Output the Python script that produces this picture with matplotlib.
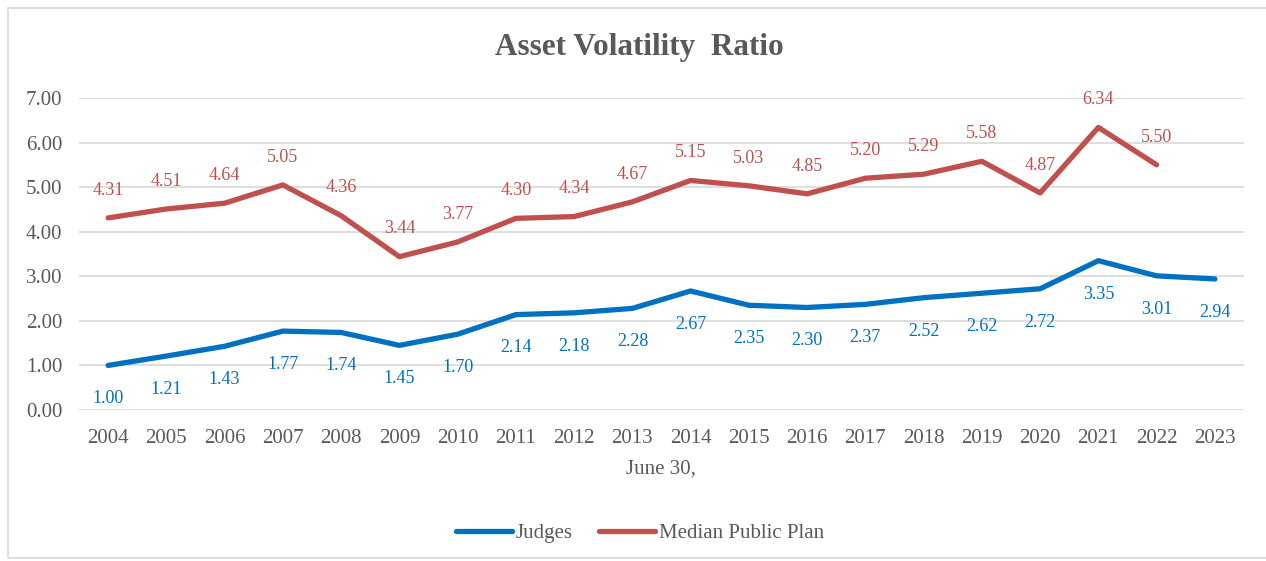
import matplotlib.pyplot as plt
from matplotlib.patches import Rectangle

# Values
years = [str(y) for y in range(2004, 2024)]
judges = [1.00, 1.21, 1.43, 1.77, 1.74, 1.45, 1.70, 2.14, 2.18, 2.28,
          2.67, 2.35, 2.30, 2.37, 2.52, 2.62, 2.72, 3.35, 3.01, 2.94]
median_plan = [4.31, 4.51, 4.64, 5.05, 4.36, 3.44, 3.77, 4.30, 4.34, 4.67,
               5.15, 5.03, 4.85, 5.20, 5.29, 5.58, 4.87, 6.34, 5.50]
yticks = [0, 1, 2, 3, 4, 5, 6, 7]

blue = '#0070C0'
red = '#C0504D'
gray = '#595959'

plt.rcParams['font.family'] = ['Liberation Serif', 'DejaVu Serif']

fig = plt.figure(figsize=(12.66, 5.61), dpi=100)
ax = fig.add_axes([79 / 1266, 1 - 410 / 561, (1244 - 79) / 1266, 312 / 561])

# chart border
fig.patches.append(Rectangle((8 / 1266, 3 / 561), 1.0, 1 - 11 / 561,
                             transform=fig.transFigure, fill=False,
                             edgecolor='#D9D9D9', linewidth=1.2))

x = list(range(len(years)))
ax.plot(x, judges, color=blue, linewidth=3.8, solid_capstyle='round',
        solid_joinstyle='round', label='Judges')
ax.plot(x[:len(median_plan)], median_plan, color=red, linewidth=3.8,
        solid_capstyle='round', solid_joinstyle='round',
        label='Median Public Plan')

for i, v in enumerate(judges):
    ax.annotate(f'{v:.2f}', (i, v), xytext=(0, -24), textcoords='offset points',
                ha='center', va='center', color=blue, fontsize=13)
for i, v in enumerate(median_plan):
    ax.annotate(f'{v:.2f}', (i, v), xytext=(0, 20), textcoords='offset points',
                ha='center', va='center', color=red, fontsize=13)

ax.set_xlim(-0.5, len(years) - 0.5)
ax.set_ylim(0, 7)
ax.set_yticks(yticks)
ax.set_yticklabels([f'{t:.2f}' for t in yticks])
ax.set_xticks(x)
ax.set_xticklabels(years)
ax.tick_params(axis='both', length=0, labelsize=15, colors=gray)
ax.tick_params(axis='y', pad=12)
ax.tick_params(axis='x', pad=14)
ax.grid(axis='y', color='#D9D9D9', linewidth=1.2)
ax.set_axisbelow(True)
for s in ax.spines.values():
    s.set_visible(False)

ax.set_xlabel('June 30,', fontsize=15, color=gray, labelpad=8)
fig.text(0.505, 1 - 47 / 561, 'Asset Volatility  Ratio', ha='center', va='center',
         fontsize=22.5, fontweight='bold', color=gray)

ax.legend(loc='center', bbox_to_anchor=((640 - 79) / 1165, (410 - 533) / 312),
          ncol=2, frameon=False, fontsize=15, labelcolor=gray, handlelength=2.7,
          columnspacing=1.25, handletextpad=0.2)

fig.savefig('out.png', dpi=100)
